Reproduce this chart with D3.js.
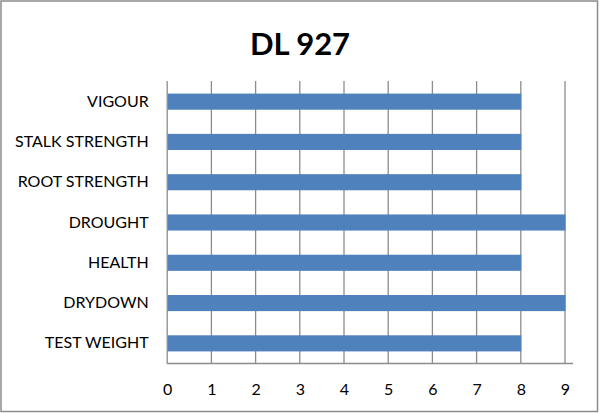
<!DOCTYPE html>
<html><head><meta charset="utf-8">
<script src="https://cdn.jsdelivr.net/npm/d3@7"></script>
<style>html,body{margin:0;padding:0;background:#fff;}svg{display:block;}</style>
</head><body>
<svg id="c" width="600" height="413"></svg>
<script>
const title = "DL 927";
const categories = ["VIGOUR","STALK STRENGTH","ROOT STRENGTH","DROUGHT","HEALTH","DRYDOWN","TEST WEIGHT"];
const values = [8,8,8,9,8,9,8];
const xTicks = [0,1,2,3,4,5,6,7,8,9];

(function(){
const svg = d3.select("#c");
const font = "Lato, 'Open Sans', sans-serif";
svg.append("rect").attr("x",1).attr("y",1).attr("width",596.5).attr("height",410.5)
  .attr("fill","#fff").attr("stroke","#8c8c8c").attr("stroke-width",1.5);

const pLeft = 166.7, pTop = 81, pBottom = 363;
const x = d3.scaleLinear().domain([0,9]).range([pLeft, 564.5]);
const y = d3.scaleBand().domain(categories).range([pTop,pBottom]).paddingInner(0.6).paddingOuter(0.3);

svg.append("text").attr("x",300).attr("y",55).attr("text-anchor","middle")
  .attr("font-family",font).attr("font-weight","bold").attr("font-size",31).attr("fill","#000").text(title);

svg.append("g").selectAll("line").data(xTicks).join("line")
  .attr("x1",d=>x(d)+0.5).attr("x2",d=>x(d)+0.5).attr("y1",pTop).attr("y2",pBottom)
  .attr("stroke","#8c8c8c").attr("stroke-width",1.3);
svg.append("line").attr("x1",pLeft).attr("x2",573).attr("y1",pBottom+0.5).attr("y2",pBottom+0.5)
  .attr("stroke","#8c8c8c").attr("stroke-width",1.3);

svg.append("g").selectAll("rect").data(categories).join("rect")
  .attr("x",x(0)+1).attr("y",d=>y(d)+0.5).attr("height",y.bandwidth())
  .attr("width",(d,i)=>x(values[i])-x(0)).attr("fill","#4f81bd");

const xAxis = d3.axisBottom(x).tickValues(xTicks).tickSize(0).tickPadding(0).tickFormat(d3.format("d"));
const gx = svg.append("g").attr("transform",`translate(0.5,${pBottom})`).call(xAxis);
gx.select(".domain").remove();
gx.selectAll("text").attr("font-family",font).attr("font-size",16).attr("fill","#000").attr("dy",0).attr("y",32);

const yAxis = d3.axisLeft(y).tickSize(0).tickPadding(18);
const gy = svg.append("g").attr("transform",`translate(${pLeft},0.5)`).call(yAxis);
gy.select(".domain").remove();
gy.selectAll("text").attr("font-family",font).attr("font-size",16).attr("fill","#000");
})();
</script>
</body></html>
